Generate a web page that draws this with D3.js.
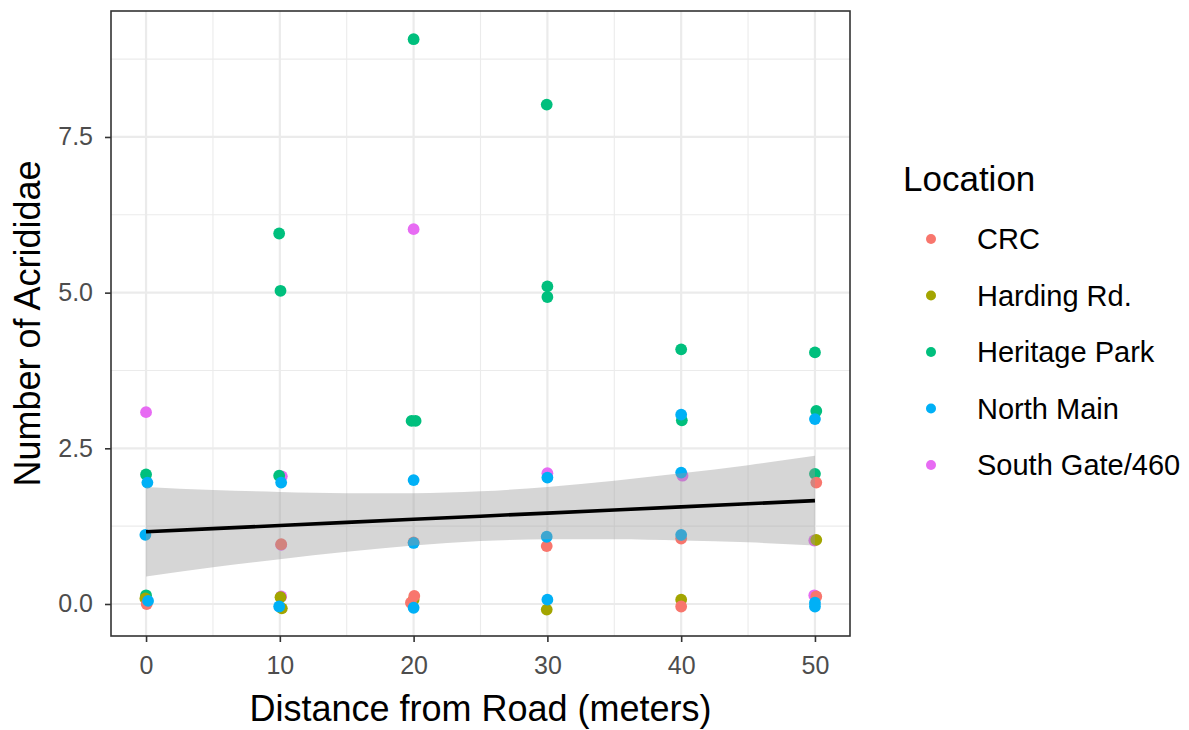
<!DOCTYPE html>
<html>
<head>
<meta charset="utf-8">
<script src="https://cdn.jsdelivr.net/npm/d3@7"></script>
<style>
  html, body { margin: 0; padding: 0; background: #fff; }
  svg { display: block; font-family: "Liberation Sans", Arial, sans-serif; }
</style>
</head>
<body>
<svg id="chart" width="1189" height="730"></svg>
<script>
// Survey counts of Acrididae by distance from road, per location (small jitter included)
const locations = ["CRC", "Harding Rd.", "Heritage Park", "North Main", "South Gate/460"];
const locationColors = ["#F8766D", "#A3A500", "#00BF7D", "#00B0F6", "#E76BF3"];

const crcDist = [0.05, 10.1, 19.8, 20.05, 20.0, 29.95, 40.0, 40.0, 50.1, 50.1];
const crcCount = [0.00, 0.96, 0.02, 0.13, 0.99, 0.93, 1.05, -0.04, 1.95, 0.12];

const hardingDist = [-0.05, 10.05, 10.15, 20.0, 29.95, 40.0, 50.1];
const hardingCount = [0.09, 0.11, -0.07, 0.07, -0.09, 0.07, 1.03];

const heritageDist = [0.0, 0.0, 9.95, 10.05, 9.95, 20.0, 19.85, 20.15, 29.95, 30.0, 30.0, 40.0, 40.05, 50.0, 50.1, 50.0];
const heritageCount = [2.08, 0.14, 5.95, 5.03, 2.06, 9.07, 2.94, 2.94, 8.02, 5.10, 4.93, 4.09, 2.95, 4.04, 3.10, 2.09];

const northMainDist = [0.1, -0.05, 0.15, 10.1, 9.95, 20.0, 20.0, 20.0, 30.0, 29.95, 30.0, 40.0, 40.0, 40.0, 50.0, 50.0, 50.0];
const northMainCount = [1.95, 1.11, 0.05, 1.95, -0.04, 1.99, 0.98, -0.06, 2.03, 1.08, 0.07, 3.04, 2.11, 1.11, 2.97, 0.02, -0.04];

const southGateDist = [0.0, 10.15, 10.1, 10.1, 20.0, 30.0, 40.1, 49.95, 49.95];
const southGateCount = [3.08, 2.05, 0.95, 0.12, 6.02, 2.10, 2.06, 1.02, 0.14];

// Linear fit with 95% confidence band
const fitDist = [0, 5, 10, 15, 20, 25, 30, 35, 40, 45, 50];
const fitMean = [1.16, 1.21, 1.26, 1.31, 1.36, 1.41, 1.46, 1.51, 1.56, 1.61, 1.66];
const fitLower = [0.44, 0.59, 0.72, 0.84, 0.94, 1.01, 1.04, 1.04, 1.02, 0.99, 0.94];
const fitUpper = [1.88, 1.83, 1.80, 1.78, 1.78, 1.81, 1.88, 1.98, 2.10, 2.23, 2.38];

const xTicks = [0, 10, 20, 30, 40, 50];
const yTicks = [0, 2.5, 5, 7.5];

const seriesDist = [crcDist, hardingDist, heritageDist, northMainDist, southGateDist];
const seriesCount = [crcCount, hardingCount, heritageCount, northMainCount, southGateCount];
// layering of the point groups (back to front)
const drawOrder = [4, 2, 1, 0, 3];

const svg = d3.select("#chart");
const panel = { left: 111, right: 850, top: 11, bottom: 636 };

const x = d3.scaleLinear().domain([-2.62, 52.62]).range([panel.left, panel.right]);
const y = d3.scaleLinear().domain([-0.514, 9.523]).range([panel.bottom, panel.top]);

svg.append("rect").attr("width", 1189).attr("height", 730).attr("fill", "#fff");

// grid
const g = svg.append("g");
const xMinor = d3.range(5, 50, 10);
const yMinor = [1.25, 3.75, 6.25, 8.75];
g.selectAll(".xminor").data(xMinor).join("line")
  .attr("x1", d => x(d)).attr("x2", d => x(d))
  .attr("y1", panel.top).attr("y2", panel.bottom)
  .attr("stroke", "#EBEBEB").attr("stroke-width", 1.1);
g.selectAll(".yminor").data(yMinor).join("line")
  .attr("y1", d => y(d)).attr("y2", d => y(d))
  .attr("x1", panel.left).attr("x2", panel.right)
  .attr("stroke", "#EBEBEB").attr("stroke-width", 1.1);
g.selectAll(".xmajor").data(xTicks).join("line")
  .attr("x1", d => x(d)).attr("x2", d => x(d))
  .attr("y1", panel.top).attr("y2", panel.bottom)
  .attr("stroke", "#EBEBEB").attr("stroke-width", 2.2);
g.selectAll(".ymajor").data(yTicks).join("line")
  .attr("y1", d => y(d)).attr("y2", d => y(d))
  .attr("x1", panel.left).attr("x2", panel.right)
  .attr("stroke", "#EBEBEB").attr("stroke-width", 2.2);

// points
drawOrder.forEach(si => {
  const pts = seriesDist[si].map((d, i) => ({ d, c: seriesCount[si][i] }));
  svg.append("g").selectAll("circle").data(pts).join("circle")
    .attr("cx", p => x(p.d)).attr("cy", p => y(p.c)).attr("r", 5.9)
    .attr("fill", locationColors[si]);
});

// confidence band and fitted line
const fitData = fitDist.map((d, i) => ({ d, m: fitMean[i], lo: fitLower[i], hi: fitUpper[i] }));
svg.append("path").datum(fitData)
  .attr("d", d3.area().x(p => x(p.d)).y0(p => y(p.lo)).y1(p => y(p.hi)).curve(d3.curveMonotoneX))
  .attr("fill", "#999999").attr("fill-opacity", 0.4);
svg.append("path").datum(fitData)
  .attr("d", d3.line().x(p => x(p.d)).y(p => y(p.m)))
  .attr("fill", "none").attr("stroke", "#000").attr("stroke-width", 3.6);

// panel border
svg.append("rect")
  .attr("x", panel.left).attr("y", panel.top)
  .attr("width", panel.right - panel.left).attr("height", panel.bottom - panel.top)
  .attr("fill", "none").attr("stroke", "#333333").attr("stroke-width", 1.6);

// axes
const xAxis = svg.append("g").attr("transform", `translate(0,${panel.bottom})`)
  .call(d3.axisBottom(x).tickValues(xTicks).tickSize(6).tickPadding(14).tickFormat(d3.format("d")));
const yAxis = svg.append("g").attr("transform", `translate(${panel.left},0)`)
  .call(d3.axisLeft(y).tickValues(yTicks).tickSize(6).tickPadding(12).tickFormat(d3.format(".1f")));
[xAxis, yAxis].forEach(a => {
  a.select(".domain").remove();
  a.selectAll(".tick line").attr("stroke", "#333333").attr("stroke-width", 1.6);
  a.selectAll(".tick text").attr("fill", "#4D4D4D").attr("font-size", 25)
    .attr("font-family", "Liberation Sans, Arial, sans-serif");
});

// axis titles
svg.append("text").attr("x", (panel.left + panel.right) / 2).attr("y", 721)
  .attr("text-anchor", "middle").attr("font-size", 36).attr("fill", "#000")
  .text("Distance from Road (meters)");
svg.append("text").attr("transform", `translate(40,${(panel.top + panel.bottom) / 2}) rotate(-90)`)
  .attr("text-anchor", "middle").attr("font-size", 36).attr("fill", "#000")
  .text("Number of Acrididae");

// legend
const legend = svg.append("g");
legend.append("text").attr("x", 903).attr("y", 191).attr("font-size", 35).attr("fill", "#000")
  .text("Location");
const rows = legend.selectAll(".row").data(locations).join("g")
  .attr("transform", (d, i) => `translate(0,${239 + i * 56.5})`);
rows.append("circle").attr("cx", 931).attr("cy", 0).attr("r", 5)
  .attr("fill", (d, i) => locationColors[i]);
rows.append("text").attr("x", 977).attr("y", 0).attr("dy", "0.35em")
  .attr("font-size", 29).attr("fill", "#000").text(d => d);
</script>
</body>
</html>
